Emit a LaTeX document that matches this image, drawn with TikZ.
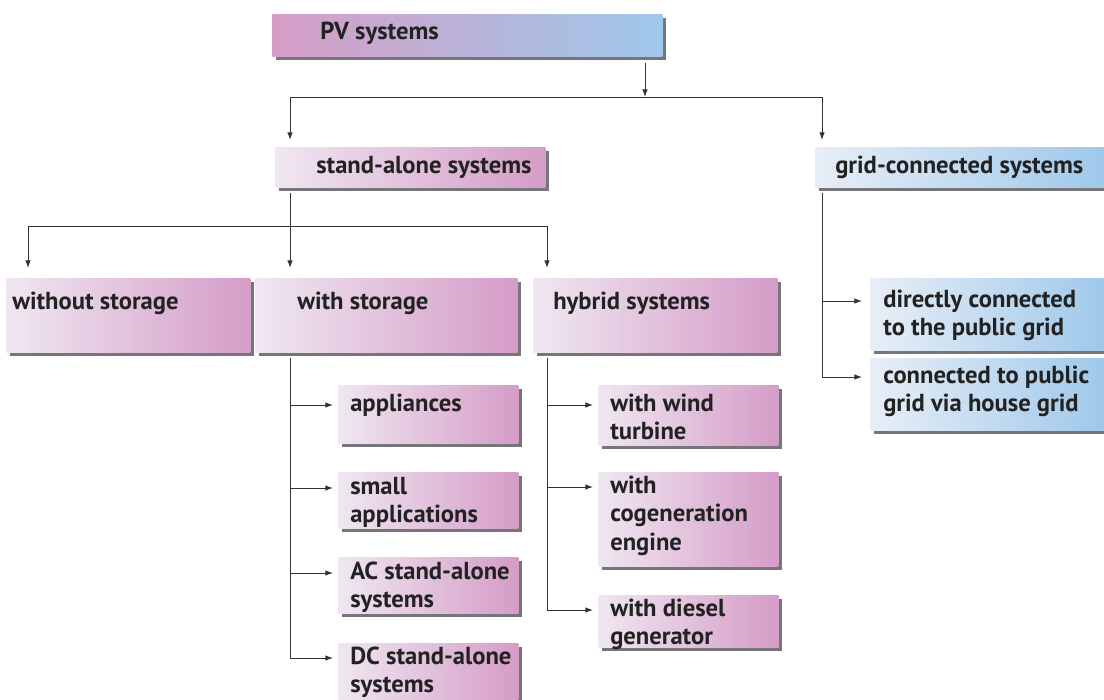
\documentclass[tikz,border=0pt]{standalone}
\usepackage{fontspec}
\setmainfont{PT Sans}
\usetikzlibrary{arrows.meta, calc, positioning}

\definecolor{pinkL}{HTML}{EFE7F1}
\definecolor{pinkR}{HTML}{D59CC7}
\definecolor{blueL}{HTML}{E8EEF6}
\definecolor{blueR}{HTML}{9EC8EB}
\definecolor{pvL}{HTML}{D69DC6}
\definecolor{shadowC}{HTML}{76767A}
\definecolor{lineC}{HTML}{333333}
\definecolor{textC}{HTML}{222222}

\begin{document}
\begin{tikzpicture}[x=0.025cm, y=-0.025cm]
    % ==========================================
    % PARAMETERS (1 unit = 1 pixel of the layout)
    % ==========================================
    \def\px{0.025cm}   % length of one layout unit
    \def\sh{4}         % offset of the box shadow

    \tikzset{
        shadowed/.style={preaction={fill=shadowC,
            transform canvas={xshift=\sh*\px, yshift=-\sh*\px}}},
        pinkbox/.style={shadowed, left color=pinkL, right color=pinkR},
        bluebox/.style={shadowed, left color=blueL, right color=blueR},
        topbox/.style={shadowed, left color=pvL, right color=blueR},
        boxtext/.style={anchor=north west, inner sep=0pt, align=left,
            text=textC, font=\fontsize{17.5}{20}\selectfont\bfseries},
        arr/.style={draw=lineC, line width=0.7pt,
            -{Latex[length=5.5pt, width=4pt]}},
        bar/.style={draw=lineC, line width=0.7pt}
    }

    \useasboundingbox (0,0) rectangle (1104,699);

    % ==========================================
    % MACRO FOR ONE SHADED BOX
    % #1 = name, #2 = style, #3 = top left corner
    % #4 = width, #5 = height, #6 = text corner, #7 = text
    % ==========================================
    \newcommand{\pvbox}[7]{
        \node [#2, minimum width=#4*\px, minimum height=#5*\px,
            anchor=north west, inner sep=0pt] (#1) at #3 {};
        \node [boxtext] (#1-txt) at #6 {#7};
    }

    % ==========================================
    % BOXES
    % ==========================================
    \pvbox{pv}{topbox}{(272,14)}{390}{42}{(320,22)}{PV systems}
    \pvbox{sa}{pinkbox}{(275,147)}{270}{40}{(316,156)}{stand-alone systems}
    \pvbox{gc}{bluebox}{(815,147)}{292}{40}{(835,156)}{grid-connected systems}

    \pvbox{wo}{pinkbox}{(6,278)}{244}{74}{(12,292)}{without storage}
    \pvbox{ws}{pinkbox}{(255,278)}{262}{74}{(297,292)}{with storage}
    \pvbox{hy}{pinkbox}{(533,278)}{244}{74}{(553,292)}{hybrid systems}

    \pvbox{dc}{bluebox}{(870,278)}{236}{72}{(883,290)}{directly connected\\to the public grid}
    \pvbox{vh}{bluebox}{(870,358)}{236}{72}{(883,366)}{connected to public\\grid via house grid}

    \pvbox{ap}{pinkbox}{(338,385)}{180}{58}{(350,394)}{appliances}
    \pvbox{sm}{pinkbox}{(338,472)}{180}{56}{(350,477)}{small\\applications}
    \pvbox{ac}{pinkbox}{(338,557)}{180}{56}{(350,562)}{AC stand-alone\\systems}
    \pvbox{ds}{pinkbox}{(338,643)}{180}{62}{(350,647)}{DC stand-alone\\systems}

    \pvbox{wt}{pinkbox}{(598,385)}{180}{60}{(610,394)}{with wind\\turbine}
    \pvbox{cg}{pinkbox}{(598,472)}{180}{94}{(610,476)}{with\\cogeneration\\engine}
    \pvbox{dg}{pinkbox}{(598,595)}{180}{52}{(610,599)}{with diesel\\generator}

    % ==========================================
    % CONNECTORS
    % ==========================================
    % PV systems -> first level
    \coordinate (pvtap) at (645,97);
    \draw [arr] (pv.south -| pvtap) ++(0,6) -- (pvtap);
    \draw [arr] (pvtap) -| ($(sa.north west)+(15,-7)$);
    \draw [arr] (pvtap) -| ($(gc.north west)+(7,-7)$);

    % stand-alone systems -> second level
    \coordinate (satap) at ($(sa.south west)+(15,39)$);
    \draw [bar] (sa.south west) ++(15,5) -- (satap);
    \draw [arr] (satap) -| ($(wo.north west)+(22,-10)$);
    \draw [arr] (satap) -- ($(ws.north west)+(35,-10)$);
    \draw [arr] (satap) -| ($(hy.north west)+(14,-10)$);

    % with storage -> applications
    \foreach \n in {ap, sm, ac, ds} {
        \draw [arr] ($(ws.south west)+(35,5)$) |- ($(\n-txt.north west)+(-17,11)$);
    }

    % hybrid systems -> generators
    \foreach \n in {wt, cg, dg} {
        \draw [arr] ($(hy.south west)+(14,5)$) |- ($(\n-txt.north west)+(-17,11)$);
    }

    % grid-connected systems -> grid variants
    \foreach \n in {dc, vh} {
        \draw [arr] ($(gc.south west)+(7,5)$) |- ($(\n-txt.north west)+(-21,11)$);
    }

\end{tikzpicture}
\end{document}
